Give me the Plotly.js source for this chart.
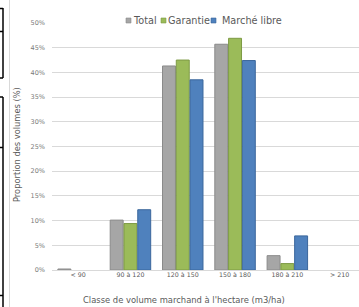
<!DOCTYPE html>
<html>
<head>
<meta charset="utf-8">
<script src="https://cdn.plot.ly/plotly-3.0.1.min.js"></script>
<style>html,body{margin:0;padding:0;background:#fff;}#chart{width:359px;height:307px;}</style>
</head>
<body>
<div id="chart"></div>
<script>
// ---- data ----
var categories = ['< 90', '90 à 120', '120 à 150', '150 à 180', '180 à 210', '> 210'];
var seriesNames = ['Total', 'Garantie', 'Marché libre'];
var total = [0.2, 10.1, 41.3, 45.7, 2.9, 0];
var garantie = [0, 9.4, 42.5, 46.9, 1.3, 0];
var marcheLibre = [0, 12.2, 38.5, 42.4, 6.9, 0];
var yTicks = [0, 5, 10, 15, 20, 25, 30, 35, 40, 45, 50];
var yTickText = ['0%', '5%', '10%', '15%', '20%', '25%', '30%', '35%', '40%', '45%', '50%'];
var xTitle = "Classe de volume marchand à l'hectare (m3/ha)";
var yTitle = 'Proportion des volumes (%)';

var fills = ['#a6a6a6', '#9bbb59', '#4f81bd'];
var edges = ['#8a8a8a', '#7d9a44', '#3b679c'];
var values = [total, garantie, marcheLibre];

var W = 359, H = 307, L = 52, R = 0, T = 23, B = 37;
var pw = W - L - R, ph = H - T - B;
function px(x) { return (x - L) / pw; }
function py(y) { return (H - B - y) / ph; }

var traces = values.map(function (v, i) {
  return {
    type: 'bar', x: categories, y: v, name: seriesNames[i],
    marker: { color: fills[i], line: { color: edges[i], width: v.map(function (d) { return d > 0 ? 1 : 0; }) } },
    showlegend: false, hoverinfo: 'skip'
  };
});

var font = '"DejaVu Sans", sans-serif';
var shapes = [];
var annotations = [];

// custom compact legend
var legendSq = [126, 161, 211];
var legendTx = [130.5, 166, 219.5];
for (var i = 0; i < 3; i++) {
  shapes.push({ type: 'rect', xref: 'paper', yref: 'paper',
    x0: px(legendSq[i]), x1: px(legendSq[i] + 5), y0: py(23), y1: py(18),
    fillcolor: fills[i], line: { color: edges[i], width: 0.6 } });
  annotations.push({ xref: 'paper', yref: 'paper', x: px(legendTx[i]), y: py(20),
    xanchor: 'left', yanchor: 'middle', showarrow: false, text: seriesNames[i],
    font: { family: font, size: 9.7, color: '#595959' } });
}
// titles
annotations.push({ xref: 'paper', yref: 'paper', x: px(183.5), y: py(300),
  xanchor: 'center', yanchor: 'middle', showarrow: false, text: xTitle,
  font: { family: font, size: 8.4, color: '#595959' } });
annotations.push({ xref: 'paper', yref: 'paper', x: px(17), y: py(145),
  xanchor: 'center', yanchor: 'middle', showarrow: false, text: yTitle, textangle: -90,
  font: { family: font, size: 8.3, color: '#595959' } });

// frame lines at the left edge (present in the reference image)
function vline(x, y0, y1, c, w) {
  shapes.push({ type: 'line', xref: 'paper', yref: 'paper', x0: px(x), x1: px(x), y0: py(y0), y1: py(y1), line: { color: c, width: w } });
}
function hline(x0, x1, y, c, w) {
  shapes.push({ type: 'line', xref: 'paper', yref: 'paper', x0: px(x0), x1: px(x1), y0: py(y), y1: py(y), line: { color: c, width: w } });
}
vline(9.5, 0, 307, '#d9d9d9', 1);
vline(3, 8, 78, '#000', 1.5);
vline(3, 97, 307, '#000', 1.5);
hline(0, 3, 8.5, '#000', 1.5);
hline(0, 3, 31.5, '#000', 1.5);
hline(0, 3, 78, '#000', 1.5);
hline(0, 3, 97, '#000', 1.5);
hline(0, 3, 147.5, '#000', 1.5);
hline(0, 3, 295.5, '#000', 1.5);

var layout = {
  width: W, height: H,
  margin: { l: L, r: R, t: T, b: B, pad: 0 },
  paper_bgcolor: '#fff', plot_bgcolor: '#fff',
  barmode: 'group', bargap: 0.21, bargroupgap: 0.06,
  font: { family: font, color: '#595959' },
  xaxis: { type: 'category', range: [-0.5, 5.37], showgrid: false, showline: false,
    ticks: '', zeroline: false, tickfont: { family: font, size: 6.3, color: '#595959' },
    fixedrange: true },
  yaxis: { range: [0, 50], tickmode: 'array', tickvals: yTicks, ticktext: yTickText, showgrid: true,
    gridcolor: '#d9d9d9', gridwidth: 1, zeroline: true, zerolinecolor: '#d9d9d9',
    showline: false, ticks: '', tickfont: { family: font, size: 6.5, color: '#7a7a7a' },
    ticklabelstandoff: 6, fixedrange: true },
  shapes: shapes,
  annotations: annotations
};

Plotly.newPlot('chart', traces, layout, { displayModeBar: false, staticPlot: true });
</script>
</body>
</html>
